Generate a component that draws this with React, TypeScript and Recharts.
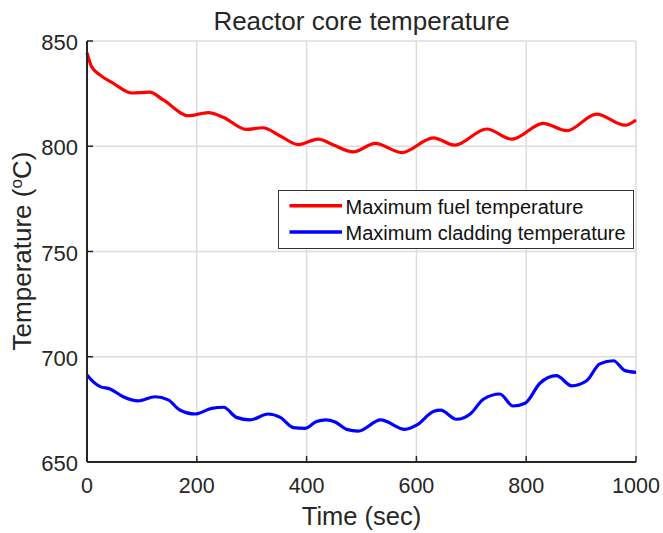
import React from "react";
import { LineChart, Line, XAxis, YAxis, CartesianGrid, Customized } from "recharts";

const xTicks = [0, 200, 400, 600, 800, 1000];
const yTicks = [650, 700, 750, 800, 850];

const fuelTime = [0, 8, 24, 48, 82, 114, 139, 185, 221, 248, 290, 320, 352, 385, 421, 449, 485, 525, 573, 631, 670, 728, 774, 831, 874, 928, 980, 1000];
const fuelTemp = [844.5, 838, 833.8, 829.9, 825.3, 825.7, 822, 814.5, 816, 813.8, 808, 808.8, 804.9, 800.8, 803.4, 800.6, 797.3, 801.4, 797, 804, 800.5, 808.2, 803.4, 810.9, 807.4, 815.3, 810, 812.5];

const cladTime = [0, 11, 24, 42, 66, 93, 124, 148, 169, 197, 227, 249, 272, 297, 330, 352, 376, 397, 418, 435, 452, 473, 494, 535, 579, 601, 631, 644, 673, 698, 722, 752, 776, 798, 825, 855, 883, 910, 934, 959, 980, 1000];
const cladTemp = [691.3, 688.2, 685.8, 684.7, 681, 679, 681, 679.5, 674.7, 672.8, 675.5, 676, 671.2, 670, 672.8, 671.2, 666.3, 666, 669.2, 670, 669, 665.5, 664.7, 670, 665.5, 667.6, 674, 674.6, 670.3, 672.8, 679.8, 682.3, 676.6, 677.9, 687.4, 691, 686.2, 688.6, 696.6, 698.1, 693.4, 692.6];

const seriesNames = ["Maximum fuel temperature", "Maximum cladding temperature"];
const seriesColors = ["#ff0000", "#0000ff"];

const fuelData = fuelTime.map((t, i) => ({ t, v: fuelTemp[i] }));
const cladData = cladTime.map((t, i) => ({ t, v: cladTemp[i] }));

const FONT = "'Liberation Sans', Arial, Helvetica, sans-serif";
const TXT = "#262626";

const XTick = (props: any) => {
  const { x, y, payload } = props;
  return (
    <g>
      <line x1={x} x2={x} y1={y} y2={y - 6} stroke={TXT} strokeWidth={1.5} />
      <text x={x} y={y + 31} textAnchor="middle" fontSize={21.5} fill={TXT} fontFamily={FONT}>
        {payload.value}
      </text>
    </g>
  );
};

const YTick = (props: any) => {
  const { x, y, payload } = props;
  return (
    <g>
      <line x1={x} x2={x + 6} y1={y} y2={y} stroke={TXT} strokeWidth={1.5} />
      <text x={x - 9} y={y + 9} textAnchor="end" fontSize={22} fill={TXT} fontFamily={FONT}>
        {payload.value}
      </text>
    </g>
  );
};

const Decorations = () => (
  <g fontFamily={FONT} fill={TXT}>
    <text x={361.5} y={29.5} textAnchor="middle" fontSize={26}>
      Reactor core temperature
    </text>
    <text x={361.5} y={525} textAnchor="middle" fontSize={25.5}>
      Time (sec)
    </text>
    <text x={31} y={251} textAnchor="middle" fontSize={26} transform="rotate(-90, 31, 251)">
      <tspan>Temperature (</tspan>
      <tspan fontSize={17} dy={-9}>o</tspan>
      <tspan dy={9}>C)</tspan>
    </text>
    <rect x={278.5} y={190.5} width={355} height={58} fill="#ffffff" stroke="#333333" strokeWidth={1} />
    {seriesNames.map((name, i) => (
      <g key={name}>
        <line x1={289.5} x2={342} y1={205.7 + i * 26.3} y2={205.7 + i * 26.3} stroke={seriesColors[i]} strokeWidth={3.5} />
        <text x={345.5} y={213.5 + i * 26.3} fontSize={20} fill="#111111">
          {name}
        </text>
      </g>
    ))}
  </g>
);

export default function App() {
  return (
    <div style={{ position: "absolute", left: 0, top: 0, background: "#fff" }}>
      <LineChart width={663} height={533} margin={{ top: 41, right: 27, bottom: 0, left: 0 }}>
        <CartesianGrid stroke="#dcdcdc" strokeWidth={1.5} />
        <XAxis
          dataKey="t"
          type="number"
          domain={[0, 1000]}
          ticks={xTicks}
          height={71}
          tickSize={0}
          tickMargin={0}
          tickLine={false}
          tick={<XTick />}
          axisLine={{ stroke: TXT, strokeWidth: 2 }}
          allowDuplicatedCategory={false}
          interval={0}
        />
        <YAxis
          type="number"
          domain={[650, 850]}
          ticks={yTicks}
          width={87}
          tickSize={0}
          tickMargin={0}
          tickLine={false}
          tick={<YTick />}
          axisLine={{ stroke: TXT, strokeWidth: 2 }}
          interval={0}
        />
        <Line data={fuelData} dataKey="v" type="monotone" stroke={seriesColors[0]} strokeWidth={3.2} dot={false} isAnimationActive={false} />
        <Line data={cladData} dataKey="v" type="monotone" stroke={seriesColors[1]} strokeWidth={3.2} dot={false} isAnimationActive={false} />
        <Customized component={Decorations} />
      </LineChart>
    </div>
  );
}
